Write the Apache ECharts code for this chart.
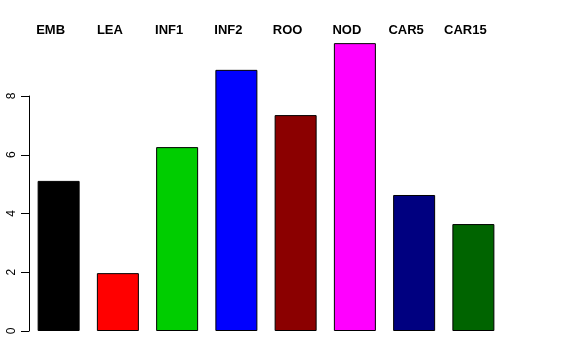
<!DOCTYPE html>
<html>
<head>
<meta charset="utf-8">
<script src="https://cdn.jsdelivr.net/npm/echarts@6/dist/echarts.min.js"></script>
<style>html,body{margin:0;padding:0;background:#fff;}#c{width:576px;height:360px;}</style>
</head>
<body>
<div id="c"></div>
<script>
const categories = ['EMB', 'LEA', 'INF1', 'INF2', 'ROO', 'NOD', 'CAR5', 'CAR15'];
const values = [5.11, 1.97, 6.26, 8.89, 7.35, 9.80, 4.63, 3.64];
const barColors = ['#000000', '#FF0000', '#00CD00', '#0000FF', '#8B0000', '#FF00FF', '#000080', '#006400'];
const yTicks = [0, 2, 4, 6, 8];

const chart = echarts.init(document.getElementById('c'), null, {renderer: 'canvas'});
chart.setOption({
  animation: false,
  backgroundColor: '#ffffff',
  grid: {left: 29, top: 96, width: 474, height: 235, containLabel: false},
  xAxis: {
    type: 'category',
    data: categories,
    position: 'top',
    axisLine: {show: false},
    axisTick: {show: false},
    axisLabel: {
      margin: 59,
      fontFamily: 'Liberation Sans',
      fontWeight: 'bold',
      fontSize: 13,
      color: '#000',
      padding: [0, 16, 0, 0]
    }
  },
  yAxis: {
    type: 'value',
    min: yTicks[0],
    max: yTicks[yTicks.length - 1],
    interval: 2,
    splitLine: {show: false},
    axisLine: {show: true, lineStyle: {color: '#000', width: 1}},
    axisTick: {show: true, length: 8, lineStyle: {color: '#000'}},
    axisLabel: {
      rotate: 90,
      margin: 11,
      fontFamily: 'Liberation Sans',
      fontSize: 12,
      color: '#000'
    }
  },
  series: [{
    type: 'bar',
    clip: false,
    barWidth: 42,
    data: values.map((v, i) => ({value: v, itemStyle: {color: barColors[i]}})),
    itemStyle: {borderColor: '#000', borderWidth: 1}
  }]
});
</script>
</body>
</html>
